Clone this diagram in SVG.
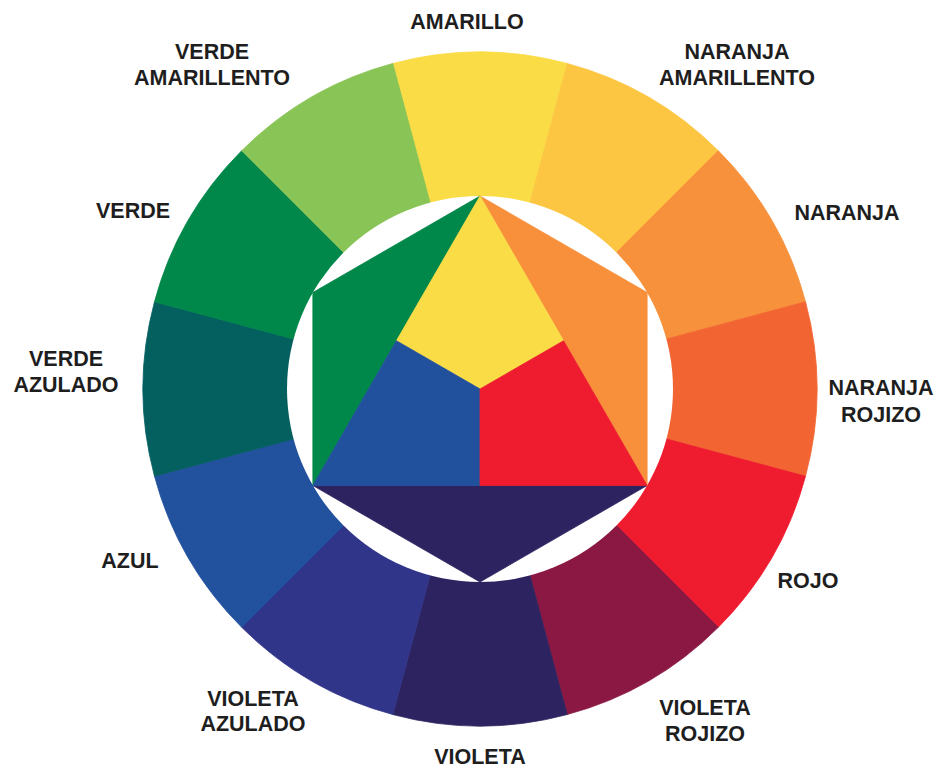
<svg xmlns="http://www.w3.org/2000/svg" width="937" height="770" viewBox="0 0 937 770">
  <style>
    .lbl { font-family: "Liberation Sans", Arial, sans-serif; font-weight: bold; font-size: 21.5px; fill: #1e1e1e; text-anchor: middle; }
    .seg { stroke-width: 0.8; stroke-linejoin: round; }
  </style>
  <rect width="937" height="770" fill="#ffffff"/>
  <g id="wheel">
    <g id="amarillo">
      <path class="seg" d="M480,389 L392.78,63.48 A337,337 0 0 1 567.22,63.48 Z" fill="#FADC46" stroke="#FADC46"/>
      <text class="lbl" x="467" y="29">AMARILLO</text>
    </g>
    <g id="naranja-amarillento">
      <path class="seg" d="M480,389 L567.22,63.48 A337,337 0 0 1 718.30,150.70 Z" fill="#FCC643" stroke="#FCC643"/>
      <text class="lbl" x="737" y="59">NARANJA</text>
      <text class="lbl" x="737" y="85">AMARILLENTO</text>
    </g>
    <g id="naranja">
      <path class="seg" d="M480,389 L718.30,150.70 A337,337 0 0 1 805.52,301.78 Z" fill="#F7913B" stroke="#F7913B"/>
      <text class="lbl" x="847" y="220">NARANJA</text>
    </g>
    <g id="naranja-rojizo">
      <path class="seg" d="M480,389 L805.52,301.78 A337,337 0 0 1 805.52,476.22 Z" fill="#F26532" stroke="#F26532"/>
      <text class="lbl" x="881" y="395">NARANJA</text>
      <text class="lbl" x="881" y="422">ROJIZO</text>
    </g>
    <g id="rojo">
      <path class="seg" d="M480,389 L805.52,476.22 A337,337 0 0 1 718.30,627.30 Z" fill="#EE1C2E" stroke="#EE1C2E"/>
      <text class="lbl" x="808" y="588">ROJO</text>
    </g>
    <g id="violeta-rojizo">
      <path class="seg" d="M480,389 L718.30,627.30 A337,337 0 0 1 567.22,714.52 Z" fill="#8A1842" stroke="#8A1842"/>
      <text class="lbl" x="705" y="715">VIOLETA</text>
      <text class="lbl" x="705" y="741">ROJIZO</text>
    </g>
    <g id="violeta">
      <path class="seg" d="M480,389 L567.22,714.52 A337,337 0 0 1 392.78,714.52 Z" fill="#2D2360" stroke="#2D2360"/>
      <text class="lbl" x="480" y="764">VIOLETA</text>
    </g>
    <g id="violeta-azulado">
      <path class="seg" d="M480,389 L392.78,714.52 A337,337 0 0 1 241.70,627.30 Z" fill="#31358A" stroke="#31358A"/>
      <text class="lbl" x="253" y="706">VIOLETA</text>
      <text class="lbl" x="253" y="731">AZULADO</text>
    </g>
    <g id="azul">
      <path class="seg" d="M480,389 L241.70,627.30 A337,337 0 0 1 154.48,476.22 Z" fill="#22519E" stroke="#22519E"/>
      <text class="lbl" x="130" y="568">AZUL</text>
    </g>
    <g id="verde-azulado">
      <path class="seg" d="M480,389 L154.48,476.22 A337,337 0 0 1 154.48,301.78 Z" fill="#045F5F" stroke="#045F5F"/>
      <text class="lbl" x="66" y="366">VERDE</text>
      <text class="lbl" x="66" y="392">AZULADO</text>
    </g>
    <g id="verde">
      <path class="seg" d="M480,389 L154.48,301.78 A337,337 0 0 1 241.70,150.70 Z" fill="#00874A" stroke="#00874A"/>
      <text class="lbl" x="133" y="218">VERDE</text>
    </g>
    <g id="verde-amarillento">
      <path class="seg" d="M480,389 L241.70,150.70 A337,337 0 0 1 392.78,63.48 Z" fill="#88C456" stroke="#88C456"/>
      <text class="lbl" x="212" y="59">VERDE</text>
      <text class="lbl" x="212" y="85">AMARILLENTO</text>
    </g>
  </g>
  <g id="inner-circle">
    <circle cx="480" cy="389" r="193" fill="#ffffff"/>
  </g>
  <g id="inner-shapes">
    <g id="inner-verde"><polygon class="seg" points="480,196 312.86,292.5 312.86,485.5" fill="#00874A" stroke="#00874A"/></g>
    <g id="inner-naranja"><polygon class="seg" points="480,196 647.14,292.5 647.14,485.5" fill="#F8903B" stroke="#F8903B"/></g>
    <g id="inner-violeta"><polygon class="seg" points="312.86,485.5 647.14,485.5 480,582" fill="#2D2360" stroke="#2D2360"/></g>
    <g id="inner-amarillo"><polygon class="seg" points="480,196 563.57,340.75 480,389 396.43,340.75" fill="#FADC46" stroke="#FADC46"/></g>
    <g id="inner-azul"><polygon class="seg" points="396.43,340.75 480,389 480,485.5 312.86,485.5" fill="#21509D" stroke="#21509D"/></g>
    <g id="inner-rojo"><polygon class="seg" points="563.57,340.75 647.14,485.5 480,485.5 480,389" fill="#EE1C2E" stroke="#EE1C2E"/></g>
  </g>
</svg>
